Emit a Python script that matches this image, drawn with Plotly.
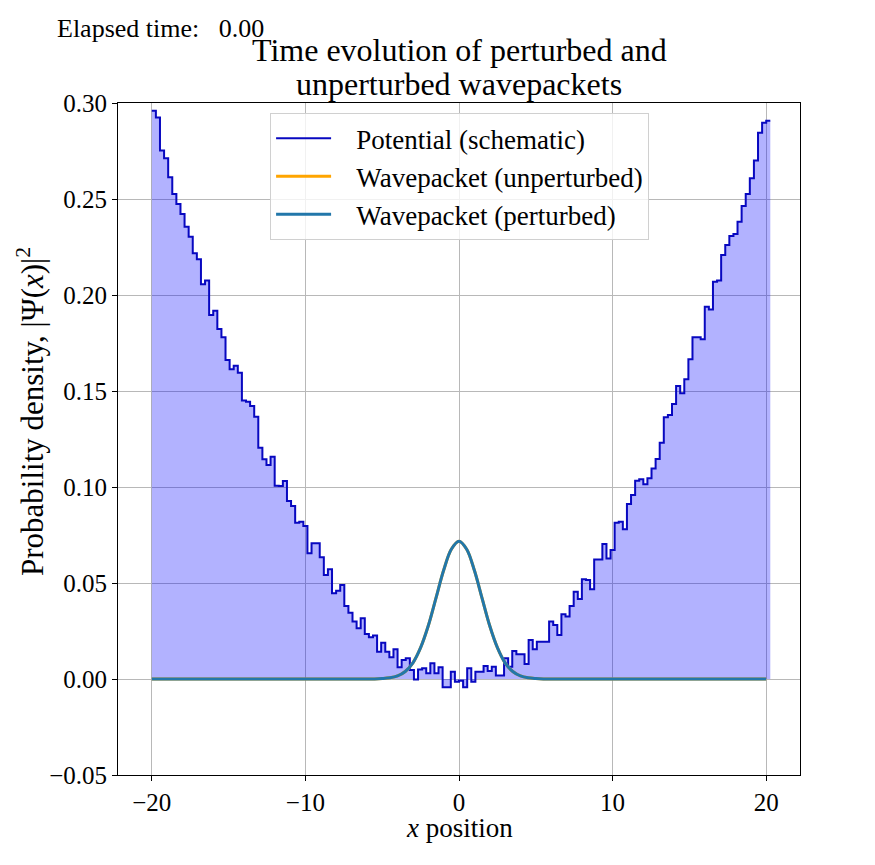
import numpy as np
import plotly.graph_objects as go

# ---- data ----
x_grid = np.linspace(-20, 20, 151)          # left edges of potential steps
potential = [
    0.2960, 0.2925, 0.2752, 0.2712, 0.2613, 0.2526, 0.2474, 0.2422, 0.2356, 0.2304,
    0.2217, 0.2186, 0.2056, 0.2075, 0.1896, 0.1918, 0.1823, 0.1780, 0.1661, 0.1613,
    0.1632, 0.1595, 0.1450, 0.1444, 0.1422, 0.1366, 0.1205, 0.1144, 0.1115, 0.1158,
    0.1007, 0.1005, 0.1031, 0.0927, 0.0901, 0.0814, 0.0819, 0.0797, 0.0655, 0.0707,
    0.0707, 0.0634, 0.0542, 0.0571, 0.0446, 0.0460, 0.0490, 0.0380, 0.0345, 0.0299,
    0.0264, 0.0316, 0.0234, 0.0217, 0.0226, 0.0142, 0.0189, 0.0142, 0.0113, 0.0155,
    0.0061, 0.0099, 0.0108, 0.0047, -0.0002, 0.0050, 0.0056, 0.0030, 0.0082, 0.0030,
    0.0061, -0.0043, -0.0043, 0.0038, -0.0014, -0.0009, -0.0043, 0.0056, -0.0014, 0.0038,
    0.0038, 0.0068, 0.0042, 0.0064, 0.0018, 0.0018, 0.0108, 0.0064, 0.0146, 0.0129,
    0.0129, 0.0078, 0.0203, 0.0155, 0.0194, 0.0194, 0.0194, 0.0299, 0.0281, 0.0229,
    0.0337, 0.0325, 0.0380, 0.0455, 0.0417, 0.0519, 0.0516, 0.0467, 0.0623, 0.0623,
    0.0703, 0.0628, 0.0672, 0.0814, 0.0819, 0.0780, 0.0911, 0.0958, 0.1033, 0.1040,
    0.1014, 0.1045, 0.1097, 0.1146, 0.1231, 0.1363, 0.1375, 0.1432, 0.1526, 0.1488,
    0.1561, 0.1665, 0.1780, 0.1780, 0.1769, 0.1939, 0.1925, 0.2069, 0.2075, 0.2208,
    0.2260, 0.2307, 0.2318, 0.2382, 0.2464, 0.2526, 0.2608, 0.2700, 0.2845, 0.2897,
    0.2908,
]

wave_x = [-20, -6.0, -5.5, -5.0, -4.5, -4.0, -3.5, -3.0, -2.5, -2.0, -1.5, -1.0, -0.5, 0.0,
          0.5, 1.0, 1.5, 2.0, 2.5, 3.0, 3.5, 4.0, 4.5, 5.0, 5.5, 6.0, 20]
wave_unperturbed = [0.0, 0.0, 0.0, 0.0002, 0.0006, 0.0016, 0.0039, 0.0084, 0.0163, 0.0277,
                    0.0421, 0.0566, 0.0676, 0.0718, 0.0676, 0.0566, 0.0421, 0.0277, 0.0163,
                    0.0084, 0.0039, 0.0016, 0.0006, 0.0002, 0.0, 0.0, 0.0]
wave_perturbed = list(wave_unperturbed)

x_ticks = [-20, -10, 0, 10, 20]
y_ticks = [-0.05, 0.00, 0.05, 0.10, 0.15, 0.20, 0.25, 0.30]

# steps: close the last step one grid width further
dx = x_grid[1] - x_grid[0]
step_x = list(x_grid) + [x_grid[-1] + dx]
step_y = potential + [potential[-1]]

FONT = "Liberation Serif"
PAD = "&nbsp;&nbsp;&nbsp;"

fig = go.Figure()
fig.add_trace(go.Scatter(x=step_x, y=step_y, mode="lines", line=dict(width=0, shape="hv"),
                         fill="tozeroy", fillcolor="rgba(0,0,255,0.30)",
                         showlegend=False, hoverinfo="skip"))
fig.add_trace(go.Scatter(x=step_x, y=step_y, mode="lines",
                         line=dict(color="#0808c0", width=2, shape="hv"),
                         name=PAD + "Potential (schematic)"))
fig.add_trace(go.Scatter(x=wave_x, y=wave_unperturbed, mode="lines",
                         line=dict(color="#ffa500", width=3, shape="spline"),
                         name=PAD + "Wavepacket (unperturbed)"))
fig.add_trace(go.Scatter(x=wave_x, y=wave_perturbed, mode="lines",
                         line=dict(color="#2277aa", width=3, shape="spline"),
                         name=PAD + "Wavepacket (perturbed)"))

axis_common = dict(showgrid=True, gridcolor="#b8b8b8", gridwidth=1, zeroline=False,
                   showline=True, linecolor="black", linewidth=1, mirror=True,
                   ticks="outside", ticklen=5, tickcolor="black",
                   tickfont=dict(family=FONT, size=25, color="black"))

fig.update_xaxes(range=[-22.2, 22.2], tickvals=x_ticks, **axis_common)
fig.update_yaxes(range=[-0.05, 0.30], tickvals=y_ticks, tickformat=".2f", **axis_common)

fig.update_layout(
    width=875, height=865,
    margin=dict(l=118, r=75, t=103, b=90),
    paper_bgcolor="white", plot_bgcolor="white",
    font=dict(family=FONT, color="black"),
    legend=dict(x=0.223, y=0.985, xanchor="left", yanchor="top",
                bgcolor="rgba(255,255,255,0.8)", bordercolor="#d0d0d0", borderwidth=1,
                font=dict(family=FONT, size=27, color="black"), itemwidth=55),
    annotations=[
        dict(text="Elapsed time:&nbsp;&nbsp;&nbsp;0.00", xref="paper", yref="paper",
             x=-0.092, y=1.1116, xanchor="left", yanchor="middle", showarrow=False,
             font=dict(family=FONT, size=26, color="black")),
        dict(text="Time evolution of perturbed and", xref="paper", yref="paper",
             x=0.5, y=(775 - 50) / 672, xanchor="center", yanchor="middle", showarrow=False,
             font=dict(family=FONT, size=32, color="black")),
        dict(text="unperturbed wavepackets", xref="paper", yref="paper",
             x=0.5, y=(775 - 84) / 672, xanchor="center", yanchor="middle", showarrow=False,
             font=dict(family=FONT, size=32, color="black")),
        dict(text="<i>x</i> position", xref="paper", yref="paper",
             x=0.5, y=(775 - 828) / 672, xanchor="center", yanchor="middle", showarrow=False,
             font=dict(family=FONT, size=27, color="black")),
        dict(text="Probability density, |Ψ(<i>x</i>)|<sup>2</sup>", xref="paper", yref="paper",
             x=(30 - 118) / 682, y=(775 - 412) / 672, xanchor="center", yanchor="middle",
             textangle=-90, showarrow=False,
             font=dict(family=FONT, size=31, color="black")),
    ],
)

fig.write_html("out.html")
